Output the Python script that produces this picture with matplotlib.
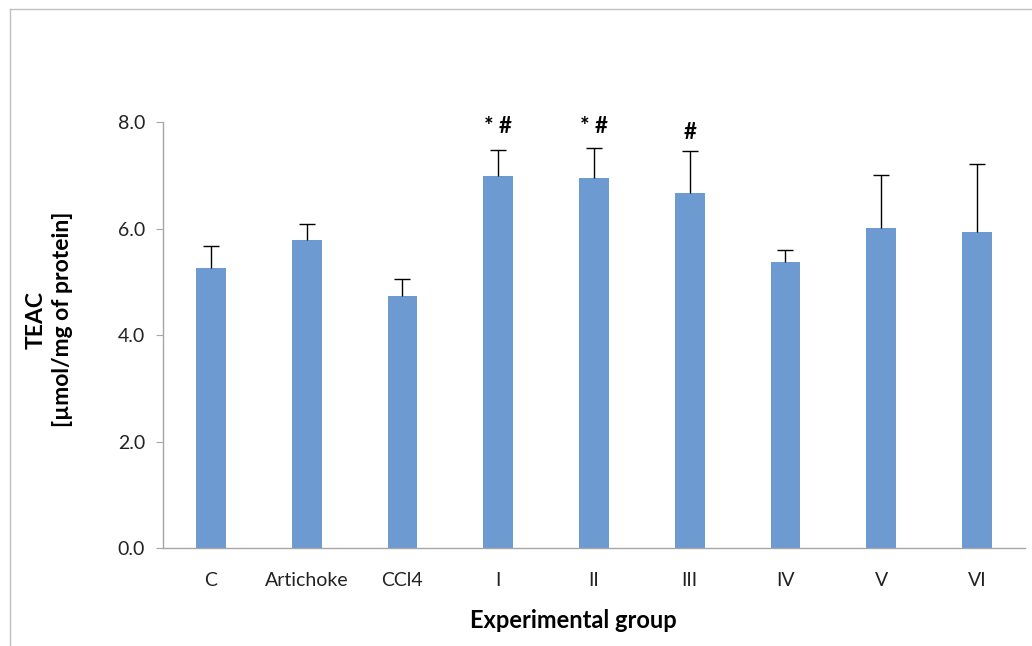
import matplotlib
matplotlib.use("Agg")
import matplotlib.pyplot as plt
from matplotlib.lines import Line2D

plt.rcParams['font.family'] = ['Lato', 'DejaVu Sans']

groups = ["C", "Artichoke", "CCl4", "I", "II", "III", "IV", "V", "VI"]
teac_mean = [5.25, 5.78, 4.73, 6.98, 6.94, 6.66, 5.37, 6.01, 5.93]
teac_err = [0.42, 0.30, 0.33, 0.49, 0.57, 0.80, 0.23, 1.00, 1.29]
significance = ["", "", "", "* #", "* #", "#", "", "", ""]
yticks = [0.0, 2.0, 4.0, 6.0, 8.0]

fig = plt.figure(figsize=(10.32, 6.46), dpi=100)
ax = fig.add_axes([0.158, 0.1517, 0.835, 0.6594])

x = list(range(len(groups)))
ax.bar(x, teac_mean, width=0.31, color="#6E9AD2", zorder=2)

# upper-only error bars: stem plus a single cap at the top
tops = [m + e for m, e in zip(teac_mean, teac_err)]
ax.vlines(x, teac_mean, tops, color="black", linewidth=1.0, zorder=3)
ax.plot(x, tops, linestyle="none", marker="_", markersize=12,
        markeredgewidth=1.0, color="black", zorder=3)

sig_y = {"* #": 7.92, "#": 7.80}
for xi, s in zip(x, significance):
    if s:
        ax.text(xi, sig_y[s], s, ha="center", va="center",
                fontsize=16, fontweight="bold", color="black")

ax.set_xlim(-0.5, len(groups) - 0.5)
ax.set_ylim(0, 8)
ax.set_yticks(yticks)
ax.set_yticklabels([f"{v:.1f}" for v in yticks], fontsize=14, color="#222222")
ax.set_xticks(x)
ax.set_xticklabels(groups, fontsize=14, color="#222222")
ax.tick_params(axis="x", length=0, pad=17)
ax.tick_params(axis="y", length=5, width=0.8, color="#A6A6A6", pad=8)

for side in ("top", "right"):
    ax.spines[side].set_visible(False)
for side in ("left", "bottom"):
    ax.spines[side].set_color("#A6A6A6")
    ax.spines[side].set_linewidth(1.0)

ax.set_xlabel("Experimental group", fontsize=17, fontweight="bold")
ax.xaxis.set_label_coords(0.476, -0.144)
fig.text(0.0475, 0.505, "TEAC\n[µmol/mg of protein]", rotation=90,
         ha="center", va="center", fontsize=16.5, fontweight="bold",
         linespacing=1.3)

# outer chart-area border
fig.add_artist(Line2D([0.0097, 0.0097], [0.0, 0.986], transform=fig.transFigure,
                      color="#BFBFBF", linewidth=1.0))
fig.add_artist(Line2D([0.0097, 1.0], [0.986, 0.986], transform=fig.transFigure,
                      color="#BFBFBF", linewidth=1.0))

fig.savefig("out.png", dpi=100)
